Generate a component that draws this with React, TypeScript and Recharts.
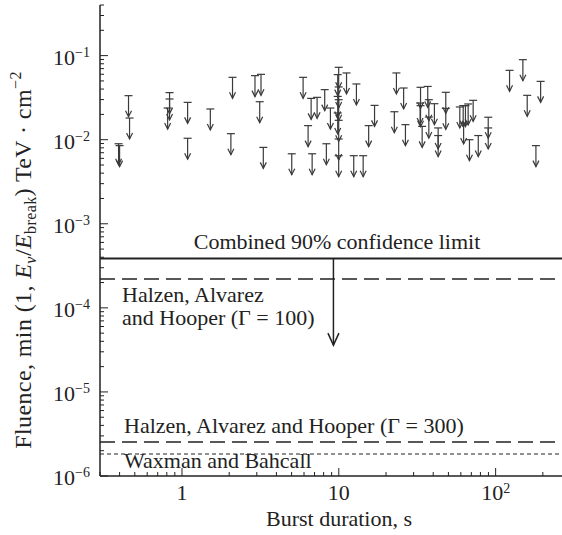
import React from "react";
import { ScatterChart, Scatter, XAxis, YAxis, ReferenceLine, ReferenceDot } from "recharts";

// upper limits per burst (duration in s, fluence limit in TeV/cm^2)
const burstDuration = [
  0.394, 0.4, 0.456, 0.463, 0.833, 0.833, 0.81, 1.086, 1.086, 1.516,
  2.1, 2.05, 2.92, 3.19, 3.13, 3.3, 5.01, 5.92, 6.37, 6.76,
  6.66, 7.27, 8.13, 8.33, 8.84, 9.98, 9.84, 9.98, 9.84, 9.98,
  9.84, 9.98, 9.98, 9.98, 11.2, 12.45, 14.3, 12.95, 15.5, 16.9,
  23.3, 22.6, 25.9, 26.6, 33.2, 36.9, 33.0, 33.2, 37.5, 40.7,
  34.0, 37.5, 43.0, 43.0, 48.1, 48.1, 59.1, 62.1, 64.2, 66.8,
  71.9, 62.5, 68.1, 77.5, 89.7, 89.7, 122.7, 149.2, 159, 193.6,
  180.7,
];
const fluenceLimit = [
  8.95e-3, 8.5e-3, 3.34e-2, 1.81e-2, 3.63e-2, 3.05e-2, 2.38e-2, 2.78e-2, 1.04e-2, 2.32e-2,
  5.52e-2, 1.18e-2, 5.78e-2, 5.99e-2, 2.83e-2, 8.1e-3, 6.8e-3, 5.52e-2, 1.47e-2, 6.8e-3,
  3.1e-2, 3.19e-2, 3.94e-2, 8.95e-3, 2.38e-2, 7.26e-2, 5.94e-2, 4.24e-2, 3.27e-2, 2.99e-2,
  2.08e-2, 1.7e-2, 1.02e-2, 6.45e-3, 6.22e-2, 6.45e-3, 6.45e-3, 4.6e-2, 1.47e-2, 2.56e-2,
  6.22e-2, 2.15e-2, 4.12e-2, 1.51e-2, 4.2e-2, 4.3e-2, 2.73e-2, 2.54e-2, 2.99e-2, 2.68e-2,
  1.44e-2, 1.86e-2, 1.38e-2, 1.12e-2, 3.66e-2, 2.36e-2, 2.45e-2, 2.54e-2, 2.54e-2, 2.66e-2,
  2.94e-2, 1.58e-2, 1.0e-2, 1.12e-2, 1.85e-2, 1.38e-2, 6.68e-2, 8.95e-2, 3.37e-2, 4.94e-2,
  8.5e-3,
];

const combinedLimit = 3.86e-4;
const combinedArrowX = 9.24;
const combinedArrowTip = 3.6e-5;
const halzenG100 = 2.21e-4;
const halzenG300 = 2.54e-6;
const waxmanBahcall = 1.83e-6;

const xDomain = [0.3, 265];
const yDomain = [1e-6, 0.4];
const xTicks = [
  0.3, 0.4, 0.5, 0.6, 0.7, 0.8, 0.9,
  1, 2, 3, 4, 5, 6, 7, 8, 9,
  10, 20, 30, 40, 50, 60, 70, 80, 90,
  100, 200,
];
const yDecades = [-6, -5, -4, -3, -2, -1];
const mantissas = [1, 2, 3, 4, 5, 6, 7, 8, 9];
const yTicks = yDecades
  .flatMap((d) => mantissas.map((m) => m * Math.pow(10, d)))
  .filter((v) => v <= 0.4);

const points = burstDuration.map((x, i) => ({ x, y: fluenceLimit[i] }));

const INK = "#222";
const FONT = "'Liberation Serif', 'Times New Roman', serif";

function isMajor(v: number) {
  const lg = Math.log10(v);
  return Math.abs(lg - Math.round(lg)) < 1e-6;
}

function BottomTick(props: any) {
  const { x, y, payload } = props;
  const v = payload.value;
  const major = isMajor(v);
  const exp = Math.round(Math.log10(v));
  return (
    <g>
      <line x1={x} y1={y} x2={x} y2={y - (major ? 8 : 4)} stroke={INK} strokeWidth={1} />
      {major && (
        <text x={x} y={y + 24} textAnchor="middle" fontSize={22} fontFamily={FONT} fill={INK}>
          {exp < 2 ? String(v) : (
            <>
              <tspan>10</tspan>
              <tspan fontSize={14} dy={-7}>{exp}</tspan>
            </>
          )}
        </text>
      )}
    </g>
  );
}

function TopTick(props: any) {
  const { x, y, payload } = props;
  const major = isMajor(payload.value);
  return <line x1={x} y1={y} x2={x} y2={y + (major ? 8 : 4)} stroke={INK} strokeWidth={1} />;
}

function LeftTick(props: any) {
  const { x, y, payload } = props;
  const v = payload.value;
  const major = isMajor(v);
  const exp = Math.round(Math.log10(v));
  return (
    <g>
      <line x1={x} y1={y} x2={x + (major ? 8 : 4)} y2={y} stroke={INK} strokeWidth={1} />
      {major && (
        <text x={x - 10} y={y + 9} textAnchor="end" fontSize={22} fontFamily={FONT} fill={INK}>
          <tspan>10</tspan>
          <tspan fontSize={14} dy={-8}>{"\u2212" + Math.abs(exp)}</tspan>
        </text>
      )}
    </g>
  );
}

function LimitArrow(props: any) {
  const { cx, cy } = props;
  if (cx == null || cy == null) return null;
  return (
    <g stroke="#3a3a3a" strokeWidth={1.2} fill="none">
      <line x1={cx - 4} y1={cy} x2={cx + 4} y2={cy} />
      <line x1={cx} y1={cy} x2={cx} y2={cy + 21} />
      <path d={`M${cx - 3},${cy + 15} L${cx},${cy + 21} L${cx + 3},${cy + 15}`} />
    </g>
  );
}

function BigArrowHead(props: any) {
  const { cx, cy } = props;
  return (
    <path
      d={`M${cx - 5.5},${cy - 12} L${cx},${cy} L${cx + 5.5},${cy - 12}`}
      stroke={INK}
      strokeWidth={1.5}
      fill="none"
    />
  );
}

export default function App() {
  const txt = { fontFamily: FONT, fontSize: 22, fill: INK };
  return (
    <div style={{ position: "absolute", left: 0, top: 0, width: 562, height: 535, background: "#fff" }}>
      <ScatterChart width={562} height={535} margin={{ top: 5, right: 0, bottom: 0, left: 0 }}>
        <XAxis
          xAxisId="bottom"
          dataKey="x"
          type="number"
          scale="log"
          domain={xDomain}
          allowDataOverflow
          ticks={xTicks}
          interval={0}
          tickSize={0}
          tickMargin={0}
          height={59}
          axisLine={{ stroke: INK, strokeWidth: 1.5 }}
          tick={<BottomTick />}
        />
        <XAxis
          xAxisId="top"
          orientation="top"
          dataKey="x"
          type="number"
          scale="log"
          domain={xDomain}
          allowDataOverflow
          ticks={xTicks}
          interval={0}
          tickSize={0}
          tickMargin={0}
          height={0}
          axisLine={{ stroke: INK, strokeWidth: 1.5 }}
          tick={<TopTick />}
        />
        <YAxis
          dataKey="y"
          type="number"
          scale="log"
          domain={yDomain}
          allowDataOverflow
          ticks={yTicks}
          interval={0}
          tickSize={0}
          tickMargin={0}
          width={100}
          axisLine={{ stroke: INK, strokeWidth: 1.5 }}
          tick={<LeftTick />}
        />

        <ReferenceLine xAxisId="bottom" y={combinedLimit} stroke={INK} strokeWidth={2} />
        <ReferenceLine xAxisId="bottom" y={halzenG100} stroke={INK} strokeWidth={1.5} strokeDasharray="15 7" />
        <ReferenceLine xAxisId="bottom" y={halzenG300} stroke={INK} strokeWidth={1.5} strokeDasharray="15 7" />
        <ReferenceLine xAxisId="bottom" y={waxmanBahcall} stroke={INK} strokeWidth={1.1} strokeDasharray="4 3" />
        <ReferenceLine
          xAxisId="bottom"
          segment={[
            { x: combinedArrowX, y: combinedLimit },
            { x: combinedArrowX, y: combinedArrowTip },
          ]}
          stroke={INK}
          strokeWidth={1.5}
        />
        <ReferenceDot
          xAxisId="bottom"
          x={combinedArrowX}
          y={combinedArrowTip}
          r={0}
          shape={<BigArrowHead />}
        />

        <Scatter xAxisId="bottom" data={points} shape={<LimitArrow />} isAnimationActive={false} />

        <text x={337} y={249} textAnchor="middle" {...txt}>Combined 90% confidence limit</text>
        <text x={122} y={302} {...txt}>Halzen, Alvarez</text>
        <text x={122} y={325} {...txt}>and Hooper (Γ = 100)</text>
        <text x={124} y={433} {...txt}>Halzen, Alvarez and Hooper (Γ = 300)</text>
        <text x={124} y={468} {...txt}>Waxman and Bahcall</text>
        <text x={339} y={526} textAnchor="middle" {...txt}>Burst duration, s</text>
        <text
          transform="translate(31,260) rotate(-90)"
          textAnchor="middle"
          {...txt}
          fontSize={24}
          letterSpacing={0.4}
        >
          <tspan>Fluence, min (1, </tspan>
          <tspan fontStyle="italic">E</tspan>
          <tspan fontStyle="italic" fontSize={16} dy={5}>ν</tspan>
          <tspan dy={-5}>/</tspan>
          <tspan fontStyle="italic">E</tspan>
          <tspan fontSize={16} dy={5}>break</tspan>
          <tspan dy={-5}>) TeV · cm</tspan>
          <tspan fontSize={16} dy={-10}>{"\u22122"}</tspan>
        </text>
      </ScatterChart>
    </div>
  );
}
